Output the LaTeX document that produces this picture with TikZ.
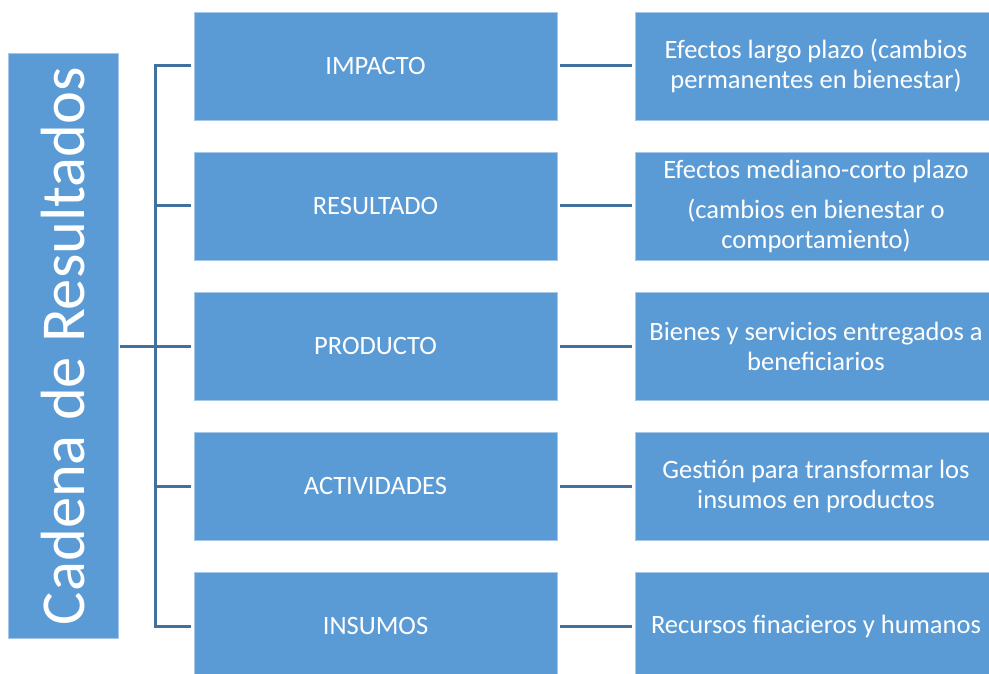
\documentclass[tikz,border=0pt]{standalone}
\usepackage{fontspec}
\setmainfont{Carlito}
\usepackage{graphicx}
\usetikzlibrary{calc}
\definecolor{azulcaja}{RGB}{91,155,213}
\definecolor{azullinea}{RGB}{65,113,156}
\tikzset{
	caja/.style={rectangle, fill=azulcaja, draw=azulcaja!55!white, line width=.6pt, text=white, align=center, inner sep=0pt, minimum height=108pt, font=\fontsize{26.5}{30}\selectfont},
	etapa/.style={caja, minimum width=363pt},
	efecto/.style={caja, minimum width=362pt},
	titulo/.style={caja, minimum width=110pt, minimum height=585pt, font=\fontsize{62.5}{70}\selectfont},
	conector/.style={draw=azullinea, line width=3pt},
}
\begin{document}
\begin{tikzpicture}[x=1pt,y=-1pt]
	\clip (0,0) rectangle (989,674);
	\node[titulo] (cadena) at (63,346) {\rotatebox{90}{Cadena de Resultados}};
	% etapas de la cadena
	\node[etapa] (impacto) at (375.5,66) {IMPACTO};
	\node[etapa] (resultado) at (375.5,206) {RESULTADO};
	\node[etapa] (producto) at (375.5,346) {PRODUCTO};
	\node[etapa] (actividades) at (375.5,486) {ACTIVIDADES};
	\node[etapa] (insumos) at (375.5,626) {INSUMOS};
	% descripciones
	\node[efecto] (impactoD) at (816,66) {Efectos largo plazo (cambios\\permanentes en bienestar)};
	\node[efecto] (resultadoD) at (816,206) {Efectos mediano-corto plazo\\[10pt](cambios en bienestar o\\comportamiento)};
	\node[efecto] (productoD) at (816,346) {Bienes y servicios entregados a\\beneficiarios};
	\node[efecto] (actividadesD) at (816,486) {Gesti\'on para transformar los\\insumos en productos};
	\node[efecto] (insumosD) at (816,626) {Recursos finacieros y humanos};
	% llave
	\coordinate (espina) at (155,346);
	\draw[conector,shorten <=2pt] (cadena.east) -- (espina);
	\draw[conector,shorten <=3pt,shorten >=3pt] (impacto.west) -- (impacto.west -| espina) -- (insumos.west -| espina) -- (insumos.west);
	\draw[conector,shorten >=3pt] (resultado.west -| espina) -- (resultado.west);
	\draw[conector,shorten >=3pt] (producto.west -| espina) -- (producto.west);
	\draw[conector,shorten >=3pt] (actividades.west -| espina) -- (actividades.west);
	% enlaces a la derecha
	\draw[conector,shorten <=3pt,shorten >=3pt] (impacto) -- (impactoD);
	\draw[conector,shorten <=3pt,shorten >=3pt] (resultado) -- (resultadoD);
	\draw[conector,shorten <=3pt,shorten >=3pt] (producto) -- (productoD);
	\draw[conector,shorten <=3pt,shorten >=3pt] (actividades) -- (actividadesD);
	\draw[conector,shorten <=3pt,shorten >=3pt] (insumos) -- (insumosD);
\end{tikzpicture}
\end{document}
